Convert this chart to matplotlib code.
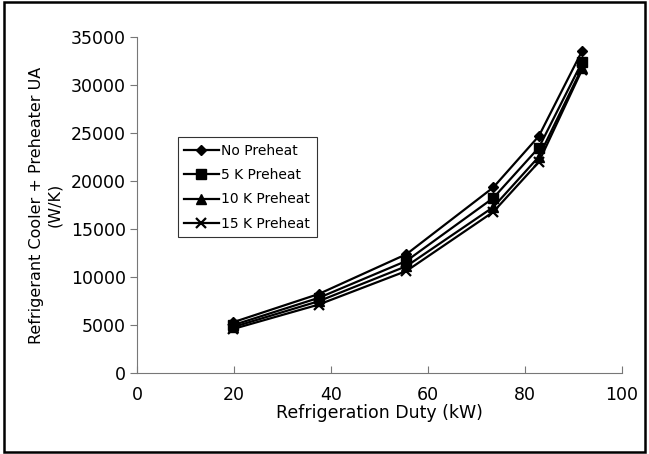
import matplotlib
matplotlib.use("Agg")
import matplotlib.pyplot as plt
from matplotlib.patches import Rectangle

plt.rcParams['font.family'] = ['DejaVu Sans']

duty = [19.8, 37.5, 55.6, 73.5, 82.9, 91.8]
no_preheat = [5300, 8250, 12400, 19350, 24700, 33550]
k5_preheat = [5000, 7850, 11700, 18250, 23500, 32400]
k10_preheat = [4800, 7500, 11150, 17300, 22550, 31800]
k15_preheat = [4600, 7150, 10650, 16800, 22000, 31600]
series = [
    ("No Preheat", no_preheat, "D", 5.5),
    ("5 K Preheat", k5_preheat, "s", 6.5),
    ("10 K Preheat", k10_preheat, "^", 6.5),
    ("15 K Preheat", k15_preheat, "x", 7.5),
]

fig = plt.figure(figsize=(6.49, 4.54), dpi=100)
ax = fig.add_axes([0.211, 0.178, 0.747, 0.74])
for label, vals, m, ms in series:
    ax.plot(duty, vals, color='black', marker=m, markersize=ms, linewidth=1.6,
            markeredgewidth=1.6 if m == 'x' else 1, label=label)

ax.set_xlim(0, 100)
ax.set_ylim(0, 35000)
ax.set_xticks(range(0, 101, 20))
ax.set_yticks(range(0, 35001, 5000))
for s in ['top', 'right']:
    ax.spines[s].set_visible(False)
for s in ['left', 'bottom']:
    ax.spines[s].set_color('#777777')
ax.tick_params(axis='y', direction='out', length=5, color='#777777', labelsize=12.5, pad=3)
ax.tick_params(axis='x', direction='in', length=5, color='#777777', labelsize=12.5, pad=9)
ax.set_xlabel("Refrigeration Duty (kW)", fontsize=12.5, labelpad=0)
ax.set_ylabel("Refrigerant Cooler + Preheater UA\n(W/K)", fontsize=11.5, labelpad=6, linespacing=1.25)

leg = ax.legend(loc='upper left', bbox_to_anchor=(0.084, 0.702), frameon=True, fancybox=False,
                edgecolor='black', fontsize=10, handlelength=2.5, handletextpad=0.2,
                borderpad=0.45, labelspacing=0.75, borderaxespad=0)
leg.get_frame().set_linewidth(0.8)

fig.patches.append(Rectangle((0.006, 0.005), 0.988, 0.99, transform=fig.transFigure,
                             fill=False, edgecolor='black', linewidth=1.8))

fig.savefig("out.png", dpi=100)
